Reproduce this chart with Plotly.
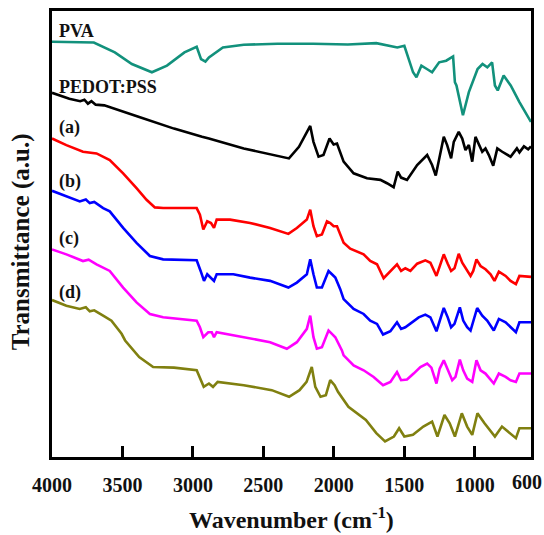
import plotly.graph_objects as go

# ---------------- data (wavenumber in cm^-1, transmittance in a.u., offset curves) -------------
pva_wn = [4000, 3703, 3554, 3433, 3291, 3184, 3060, 2973, 2942, 2911, 2886, 2787, 2639, 2400, 2146,
          1900, 1698, 1549, 1499, 1437, 1413, 1378, 1339, 1302, 1252, 1202, 1153, 1140, 1129, 1083,
          1041, 979, 944, 910, 876, 856, 836, 794, 744, 682, 600]
pva_t = [423.3, 422.6, 412.6, 400.9, 392.6, 399.3, 412.6, 418.3, 405.9, 403.3, 407.6, 417.6, 420.3,
         421.3, 421.3, 420.5, 421.9, 417.6, 419.3, 392.6, 387.6, 399.3, 395.9, 392.6, 402.6, 404.3,
         408.6, 382.6, 379.3, 349.3, 372.6, 395.9, 400.9, 397.6, 402.6, 379.3, 374.3, 389.3, 379.3,
         362.6, 342.6]

pedot_wn = [4000, 3877, 3800, 3770, 3745, 3720, 3690, 3629, 3381, 3134, 2935, 2886, 2639, 2389, 2318,
            2247, 2167, 2144, 2108, 2073, 2030, 2001, 1977, 1930, 1859, 1764, 1669, 1622, 1575, 1546,
            1522, 1480, 1408, 1337, 1302, 1276, 1243, 1219, 1195, 1167, 1148, 1113, 1088, 1065, 1041,
            1017, 994, 970, 946, 923, 899, 868, 839, 804, 745, 700, 682, 650, 620, 600]
pedot_t = [371.9, 365.9, 363.5, 365, 361, 363.5, 360, 359.3, 347.6, 335.9, 327.6, 325.9, 315.9, 307.6,
           305.9, 317.6, 338.6, 322.6, 307.6, 309.3, 325.9, 319.9, 320.9, 302.6, 290.9, 285.9, 284.3,
           280.9, 276.9, 292.6, 286.6, 284.3, 299.3, 309.3, 299.3, 288.6, 309.3, 327.6, 319.3, 305.9,
           322.6, 332.6, 325.9, 314.3, 319.3, 302.6, 327.6, 319.3, 312.6, 315.9, 309.3, 298.6, 315.9,
           312.6, 307.6, 316, 312, 318, 315, 318]

a_wn = [4000, 3898, 3780, 3684, 3590, 3495, 3400, 3329, 3270, 3211, 2973, 2950, 2926, 2898, 2871, 2850,
        2831, 2736, 2594, 2452, 2322, 2262, 2191, 2167, 2144, 2120, 2084, 2048, 2025, 2001, 1977, 1942,
        1930, 1883, 1788, 1741, 1693, 1646, 1598, 1551, 1522, 1492, 1456, 1408, 1350, 1314, 1271, 1243,
        1219, 1191, 1167, 1143, 1113, 1088, 1065, 1029, 1010, 987, 958, 923, 887, 859, 828, 780, 745,
        707, 682, 600]
a_t = [325.9, 319.3, 312.6, 310.9, 304.3, 290.9, 275.9, 264.3, 256.6, 255.9, 255.9, 249.3, 234.3, 242.6,
       240.9, 235.9, 244.3, 244.3, 240.9, 235.9, 229.9, 235.9, 244.3, 254.3, 237.6, 227.6, 229.3, 242.6,
       240.9, 237.6, 237.6, 225.9, 220.9, 215, 209.3, 202.6, 199.3, 185.3, 192.6, 199.3, 192.6, 195.3,
       192.6, 199.9, 203.3, 200.9, 187.6, 199.3, 209.3, 199.9, 192.6, 195.3, 209.9, 200.9, 195.9, 187.6,
       192.6, 204.3, 197.6, 194.3, 189.3, 182.6, 191.9, 187.6, 182.6, 179.3, 187.6, 186.6]

b_wn = [4000, 3898, 3803, 3760, 3732, 3700, 3637, 3590, 3495, 3400, 3305, 3211, 2973, 2945, 2921, 2898,
        2871, 2850, 2831, 2713, 2594, 2452, 2322, 2262, 2191, 2167, 2144, 2120, 2084, 2037, 2013, 1989,
        1954, 1930, 1859, 1788, 1741, 1693, 1650, 1598, 1551, 1522, 1492, 1444, 1397, 1350, 1314, 1271,
        1243, 1219, 1191, 1167, 1143, 1105, 1081, 1053, 1029, 1010, 982, 946, 911, 864, 828, 780, 745,
        707, 682, 600]
b_t = [273.3, 267.6, 262.6, 264.5, 260.9, 262, 255.9, 252.6, 235.9, 220.9, 207.6, 204.3, 203.3, 192.6,
       182.6, 189.3, 185.9, 182.6, 189.3, 189.3, 185.9, 182.6, 175.9, 180.9, 189.3, 204.3, 189.3, 175.9,
       175.9, 192.6, 189.3, 185.9, 174.3, 164.3, 154.3, 149.3, 142.6, 139.3, 128.6, 131.9, 140.9, 134.3,
       135.9, 140.9, 145.9, 148.6, 145.9, 131.9, 145.9, 155.3, 145.9, 135.9, 139.3, 155.9, 142.6, 135.9,
       132.6, 142.6, 155.3, 147.6, 142.6, 132.6, 144.3, 140.9, 135.9, 130.9, 140.9, 140.9]

c_wn = [4000, 3898, 3780, 3740, 3684, 3590, 3495, 3400, 3305, 3211, 2973, 2950, 2926, 2891, 2866, 2850,
        2831, 2713, 2594, 2452, 2333, 2262, 2191, 2167, 2144, 2120, 2084, 2037, 2013, 1989, 1942, 1930,
        1859, 1788, 1717, 1650, 1598, 1551, 1522, 1480, 1433, 1385, 1337, 1307, 1271, 1248, 1219, 1191,
        1159, 1136, 1105, 1081, 1053, 1017, 987, 958, 923, 864, 828, 780, 745, 707, 682, 600]
c_t = [214.3, 209.3, 202.6, 204, 199.3, 192.6, 175.9, 160.9, 149.3, 145.9, 142.6, 135.9, 125.9, 130.9,
       130.9, 125.9, 130.9, 127.6, 124.3, 120.9, 114.3, 120.9, 134.3, 147.6, 125.9, 114.3, 115.9, 132.6,
       129.3, 125.9, 112.6, 107.6, 97.6, 92.6, 85.9, 77.6, 80.9, 90.9, 82.6, 83.3, 89.3, 95.9, 99.3, 95.3,
       79.3, 94.3, 102.6, 92.6, 82.6, 85.9, 103.3, 92.6, 84.3, 80.9, 102.6, 92.6, 89.3, 79.3, 89.3, 85.9,
       82.6, 80.9, 89.3, 89.3]

d_wn = [4000, 3898, 3803, 3760, 3732, 3700, 3637, 3578, 3506, 3481, 3381, 3282, 3134, 2973, 2923, 2886,
        2857, 2824, 2639, 2440, 2317, 2243, 2193, 2156, 2131, 2094, 2056, 2025, 1994, 1970, 1896, 1772,
        1698, 1636, 1573, 1536, 1499, 1438, 1364, 1302, 1264, 1214, 1177, 1140, 1091, 1053, 1017, 980,
        930, 856, 806, 707, 682, 600]
d_t = [163.3, 157.6, 154.3, 156, 151.9, 153, 147.6, 142.6, 129.3, 122.6, 105.9, 95.9, 95.3, 92.6, 75.9,
       79.3, 75.9, 80.9, 77.6, 72.6, 65.9, 72.6, 80.9, 95.9, 75.9, 65.9, 67.6, 82.6, 77.6, 70.9, 55.9,
       42.6, 29.3, 20.9, 25.9, 34.3, 25.9, 27.6, 35.9, 40.9, 25.9, 47.6, 39.3, 25.9, 49.3, 35.9, 27.6,
       49.3, 39.3, 25.9, 35.9, 24.3, 34.3, 34.3]

series_names = ["PVA", "PEDOT:PSS", "(a)", "(b)", "(c)", "(d)"]
series_x = [pva_wn, pedot_wn, a_wn, b_wn, c_wn, d_wn]
series_y = [pva_t, pedot_t, a_t, b_t, c_t, d_t]
series_colors = ["#12917c", "#000000", "#ff0000", "#0000ff", "#ff00ff", "#808010"]
label_y = [434.3, 377.6, 336.6, 282.6, 225.6, 170.9]

x_ticks = [4000, 3500, 3000, 2500, 2000, 1500, 1000, 600]

FONT = "Liberation Serif, Times New Roman, serif"

fig = go.Figure()
for name, xs, ys, col in zip(series_names, series_x, series_y, series_colors):
    fig.add_trace(go.Scatter(x=xs, y=ys, mode="lines", name=name,
                             line=dict(color=col, width=2.6), showlegend=False))

for name, yy in zip(series_names, label_y):
    fig.add_annotation(x=3967, y=yy, xref="x", yref="y", text="<b>%s</b>" % name,
                       showarrow=False, xanchor="left", yanchor="middle",
                       font=dict(family=FONT, size=18, color="#111111"))

# last tick label sits at the right edge of the figure (clipped in the original)
fig.add_annotation(x=1.0, y=-0.055, xref="paper", yref="paper", xshift=13,
                   text="<b>%d</b>" % x_ticks[-1], showarrow=False,
                   xanchor="right", yanchor="middle",
                   font=dict(family=FONT, size=20, color="#111111"))

fig.add_annotation(x=-0.064, y=0.482, xref="paper", yref="paper", textangle=-90,
                   text="<b>Transmittance (a.u.)</b>", showarrow=False,
                   xanchor="center", yanchor="middle",
                   font=dict(family=FONT, size=25, color="#111111"))
fig.add_annotation(x=0.499, y=-0.137, xref="paper", yref="paper",
                   text="<b>Wavenumber (cm<sup>-1</sup>)</b>", showarrow=False,
                   xanchor="center", yanchor="middle",
                   font=dict(family=FONT, size=24, color="#111111"))

fig.update_layout(
    width=544, height=535,
    margin=dict(l=52, r=13, t=8, b=78),
    paper_bgcolor="white", plot_bgcolor="white",
    xaxis=dict(range=[4000, 599.9], tickvals=x_ticks,
               ticktext=[str(v) for v in x_ticks[:-1]] + [""],
               ticks="inside", ticklen=11, tickwidth=2.5, tickcolor="black",
               showline=True, linecolor="black", linewidth=2.8, mirror=True,
               showgrid=False, zeroline=False, ticklabelstandoff=8,
               tickfont=dict(family=FONT, size=20, color="#111111", weight="bold")),
    yaxis=dict(range=[5.3, 454.3], showticklabels=False, ticks="",
               showline=True, linecolor="black", linewidth=2.8, mirror=True,
               showgrid=False, zeroline=False),
)

fig.write_html("out.html", config={"displayModeBar": False},
               post_script="document.documentElement.style.overflow='hidden';"
                           "document.body.style.margin='0px';document.body.style.overflow='hidden';")
